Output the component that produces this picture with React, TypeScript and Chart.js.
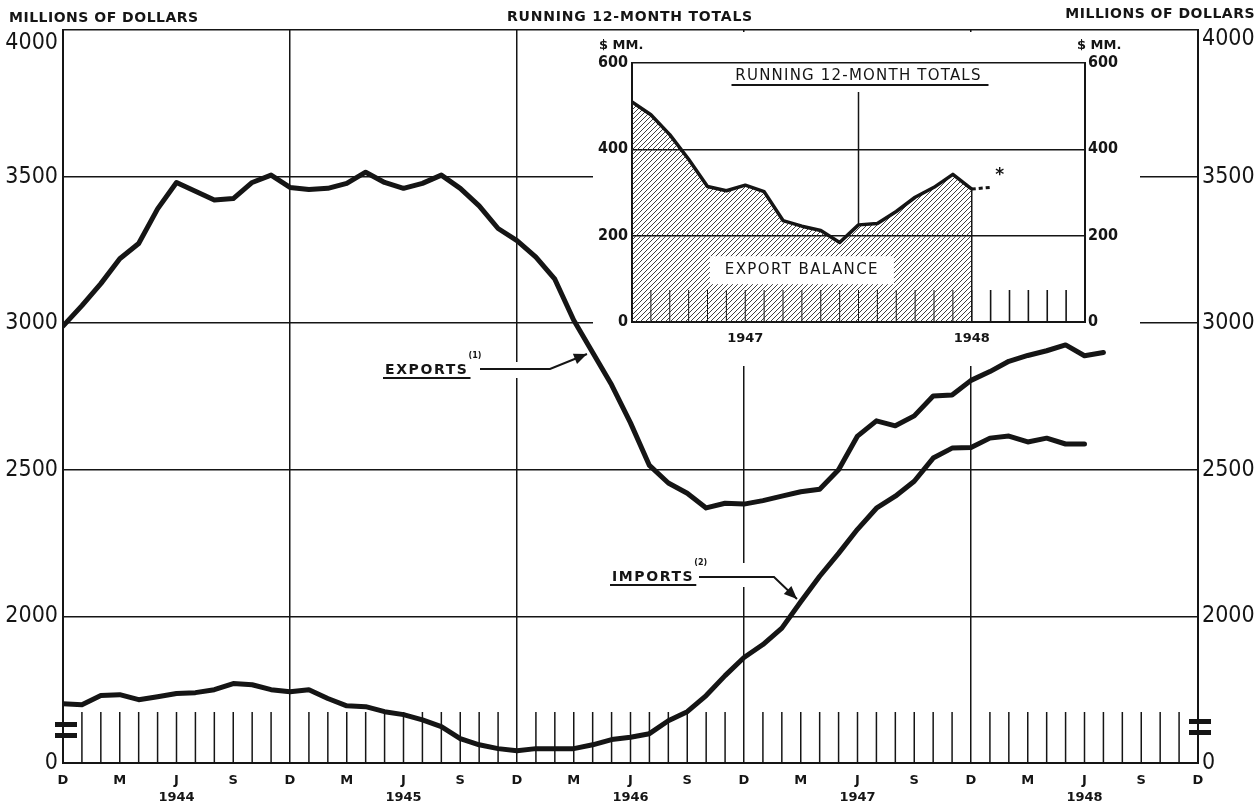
import React, { useEffect, useRef } from 'react';
import { Chart, registerables } from 'chart.js';

Chart.register(...registerables);

// ---------------- data ----------------
const MONTH_LETTERS = ['D', 'M', 'J', 'S'];
const YEAR_LABELS = ['1944', '1945', '1946', '1947', '1948'];
const MONTH_COUNT = 60; // Dec 1943 .. Dec 1948
const BREAK_VALUE = 1500; // bottom of the broken axis, labelled "0"

// running 12-month totals, millions of dollars, month index from Dec 1943
const EXPORTS = [
  2990, 3060, 3135, 3220, 3272, 3390, 3480, 3450, 3420, 3425,
  3480, 3505, 3463, 3456, 3460, 3477, 3515, 3480, 3460, 3477,
  3505, 3460, 3400, 3323, 3282, 3225, 3150, 3010, 2900, 2790,
  2660, 2515, 2455, 2420, 2370, 2386, 2383, 2395, 2410, 2425,
  2434, 2500, 2615, 2667, 2650, 2684, 2752, 2755, 2805, 2835,
  2870, 2890, 2906, 2926, 2889, 2900,
];
const IMPORTS = [
  1702, 1699, 1730, 1733, 1716, 1726, 1737, 1740, 1750, 1771,
  1767, 1750, 1743, 1750, 1720, 1695, 1692, 1675, 1665, 1647,
  1624, 1583, 1562, 1549, 1542, 1549, 1549, 1549, 1562, 1580,
  1588, 1600, 1644, 1675, 1730, 1798, 1860, 1904, 1960, 2050,
  2137, 2215, 2297, 2369, 2410, 2461, 2540, 2574, 2576, 2608,
  2615, 2595, 2608, 2588, 2588,
];

// inset: export balance, month index from Dec 1946
const INSET_MONTHS = 24;
const INSET_YEARS = ['1947', '1948'];
const BALANCE = [510, 480, 434, 377, 314, 304, 317, 302, 235, 222, 212, 184, 225, 228, 256, 289, 312, 342, 308];
const BALANCE_EST = [308, 312];

// ---------------- style ----------------
const INK = '#151515';
const NUM_FONT = '"DejaVu Sans Condensed", sans-serif';
const COND_FONT = '"DejaVu Sans Condensed", sans-serif';
const TXT_FONT = '"DejaVu Sans", sans-serif';
const W = 1257;
const H = 804;
const INSET = { left: 593, top: 34, width: 547, height: 332 };

function put(ctx: any, s: string, x: number, y: number, font: string, align = 'left', spacing = '0px') {
  ctx.font = font;
  ctx.textAlign = align;
  ctx.textBaseline = 'middle';
  ctx.letterSpacing = spacing;
  ctx.fillStyle = INK;
  ctx.fillText(s, x, y);
  ctx.letterSpacing = '0px';
}

function line(ctx: any, pts: number[][], width: number) {
  ctx.strokeStyle = INK;
  ctx.lineWidth = width;
  ctx.beginPath();
  ctx.moveTo(pts[0][0], pts[0][1]);
  for (let k = 1; k < pts.length; k++) ctx.lineTo(pts[k][0], pts[k][1]);
  ctx.stroke();
}

function callout(ctx: any, label: string, sup: string, tx: number, ty: number, pts: number[][], gapTop: number, gapBottom: number) {
  const font = `bold 14px ${TXT_FONT}`;
  const sp = '1.6px';
  ctx.font = font;
  ctx.letterSpacing = sp;
  const w = ctx.measureText(label).width;
  ctx.letterSpacing = '0px';
  ctx.fillStyle = '#fff';
  ctx.fillRect(tx - 3, ty - gapTop, pts[1][0] - tx + 3, gapTop + gapBottom);
  put(ctx, label, tx, ty, font, 'left', sp);
  put(ctx, sup, tx + w, ty - 14, `bold 8px ${TXT_FONT}`, 'left');
  line(ctx, [[tx - 2, ty + 8], [tx + w + 2, ty + 8]], 2);
  line(ctx, pts, 2);
  const [p0, p1] = [pts[pts.length - 2], pts[pts.length - 1]];
  const ang = Math.atan2(p1[1] - p0[1], p1[0] - p0[0]);
  const L = 13, hw = 5.5;
  ctx.fillStyle = INK;
  ctx.beginPath();
  ctx.moveTo(p1[0], p1[1]);
  ctx.lineTo(p1[0] - L * Math.cos(ang) + hw * Math.sin(ang), p1[1] - L * Math.sin(ang) - hw * Math.cos(ang));
  ctx.lineTo(p1[0] - L * Math.cos(ang) - hw * Math.sin(ang), p1[1] - L * Math.sin(ang) + hw * Math.cos(ang));
  ctx.closePath();
  ctx.fill();
}

const mainDecor = {
  id: 'mainDecor',
  beforeDatasetsDraw(chart: any) {
    const { ctx, chartArea: a, scales } = chart;
    const x = scales.x;
    ctx.save();
    // white backdrop behind the inset chart
    ctx.fillStyle = '#fff';
    ctx.fillRect(INSET.left, a.top + 2, INSET.width, INSET.top + INSET.height - a.top - 2);
    // monthly tick marks along the bottom
    ctx.strokeStyle = INK;
    ctx.lineWidth = 1.5;
    for (let i = 1; i < MONTH_COUNT; i++) {
      if (i % 12 === 0) continue;
      const px = x.getPixelForValue(i);
      ctx.beginPath();
      ctx.moveTo(px, a.bottom);
      ctx.lineTo(px, a.bottom - 51);
      ctx.stroke();
    }
    callout(ctx, 'EXPORTS', '(1)', 385, 370, [[480, 369], [550, 369], [587, 354]], 8, 8);
    callout(ctx, 'IMPORTS', '(2)', 612, 577, [[699, 577], [774, 577], [797, 599]], 14, 10);
    ctx.restore();
  },
  afterDraw(chart: any) {
    const { ctx, chartArea: a } = chart;
    ctx.save();
    const nf = `23px ${NUM_FONT}`;
    put(ctx, '4000', a.left - 5, a.top + 13, nf, 'right');
    put(ctx, '4000', a.right + 4, a.top + 9, nf, 'left');
    const tf = `bold 14px ${TXT_FONT}`;
    put(ctx, 'MILLIONS OF DOLLARS', 9, 18, tf, 'left', '0.5px');
    put(ctx, 'MILLIONS OF DOLLARS', 1255, 14, tf, 'right', '0.5px');
    put(ctx, 'RUNNING 12-MONTH TOTALS', 630, 17, tf, 'center', '0.8px');
    // axis break marks
    ctx.fillStyle = INK;
    ctx.fillRect(a.left - 8, a.bottom - 41, 22, 5);
    ctx.fillRect(a.left - 8, a.bottom - 30, 22, 5);
    ctx.fillRect(a.right - 9, a.bottom - 44, 22, 5);
    ctx.fillRect(a.right - 9, a.bottom - 33, 22, 5);
    ctx.restore();
  },
};

const insetDecor = {
  id: 'insetDecor',
  beforeDatasetsDraw(chart: any) {
    const { ctx, chartArea: a, scales } = chart;
    const x = scales.x, y = scales.y;
    ctx.save();
    for (let j = 1; j < INSET_MONTHS; j++) {
      const px = x.getPixelForValue(j);
      line(ctx, [[px, a.bottom], [px, a.bottom - 32]], j < BALANCE.length ? 1 : 1.6);
    }
    const mid = x.getPixelForValue(12);
    line(ctx, [[mid, a.top + 29], [mid, y.getPixelForValue(BALANCE[12])]], 1.5);
    ctx.restore();
  },
  afterDatasetsDraw(chart: any) {
    const { ctx, chartArea: a, scales } = chart;
    const x = scales.x, y = scales.y;
    ctx.save();
    const last = BALANCE.length - 1;
    const ex = x.getPixelForValue(last);
    line(ctx, [[ex, y.getPixelForValue(BALANCE[last])], [ex, a.bottom]], 1.5);
    // label box
    const bx = x.getPixelForValue(9), by = y.getPixelForValue(120);
    ctx.fillStyle = '#fff';
    ctx.fillRect(bx - 92, by - 14, 184, 28);
    const lf = `15px ${TXT_FONT}`;
    put(ctx, 'EXPORT BALANCE', bx, by, lf, 'center', '1.4px');
    // title
    const tx = x.getPixelForValue(12);
    put(ctx, 'RUNNING 12-MONTH TOTALS', tx, a.top + 13, lf, 'center', '1.2px');
    line(ctx, [[tx - 127, a.top + 22], [tx + 130, a.top + 22]], 1.8);
    const uf = `bold 13px ${TXT_FONT}`;
    put(ctx, '$ MM.', a.left - 33, a.top - 17, uf, 'left');
    put(ctx, '$ MM.', a.right - 8, a.top - 17, uf, 'left');
    put(ctx, '*', x.getPixelForValue(last + 1) + 9, y.getPixelForValue(BALANCE_EST[1]) - 12, `bold 17px ${TXT_FONT}`, 'center');
    ctx.restore();
  },
};

function makeHatch(ctx: any) {
  const c = document.createElement('canvas');
  c.width = 5;
  c.height = 5;
  const g = c.getContext('2d') as CanvasRenderingContext2D;
  g.strokeStyle = '#2a2a2a';
  g.lineWidth = 0.9;
  g.beginPath();
  g.moveTo(0, 5); g.lineTo(5, 0);
  g.moveTo(-1, 1); g.lineTo(1, -1);
  g.moveTo(4, 6); g.lineTo(6, 4);
  g.stroke();
  return ctx.createPattern(c, 'repeat');
}

function mainConfig(): any {
  const lineDs = (data: number[]) => ({
    data: data.map((v, i) => ({ x: i, y: v })),
    borderColor: INK,
    borderWidth: 5,
    pointRadius: 0,
    tension: 0,
    fill: false,
    borderJoinStyle: 'round',
    borderCapStyle: 'round',
  });
  const yTicks = (pad: number) => ({
    stepSize: 500,
    padding: pad,
    color: INK,
    font: { family: NUM_FONT, size: 23 },
    callback: (v: number) => (v === BREAK_VALUE ? '0' : v === 4000 ? '' : String(v)),
  });
  return {
    type: 'line',
    data: { datasets: [lineDs(EXPORTS), lineDs(IMPORTS)] },
    options: {
      animation: false,
      responsive: false,
      events: [],
      layout: { padding: { top: 30, left: 0, right: 0, bottom: 0 } },
      plugins: { legend: { display: false }, tooltip: { enabled: false }, title: { display: false } },
      scales: {
        x: {
          type: 'linear',
          min: 0,
          max: MONTH_COUNT,
          afterFit: (s: any) => { s.height = 41; },
          ticks: {
            stepSize: 3,
            autoSkip: false,
            maxRotation: 0,
            padding: 9.5,
            color: INK,
            font: { family: TXT_FONT, size: 13, weight: 'bold', lineHeight: '17px' },
            callback: (v: number) => {
              const i = Math.round(v);
              const m = MONTH_LETTERS[(i / 3) % 4];
              return i % 12 === 6 ? [m, YEAR_LABELS[(i - 6) / 12]] : m;
            },
          },
          grid: {
            drawTicks: false,
            lineWidth: 1.5,
            color: (c: any) => (c.tick && Math.round(c.tick.value) % 12 === 0 ? INK : 'rgba(0,0,0,0)'),
          },
          border: { display: true, color: INK, width: 2 },
        },
        y: {
          type: 'linear',
          position: 'left',
          min: BREAK_VALUE,
          max: 4000,
          afterFit: (s: any) => { s.width = 63; },
          ticks: yTicks(5),
          grid: { drawTicks: false, lineWidth: 1.5, color: INK },
          border: { display: true, color: INK, width: 2 },
        },
        y2: {
          type: 'linear',
          position: 'right',
          min: BREAK_VALUE,
          max: 4000,
          afterFit: (s: any) => { s.width = 59; },
          ticks: yTicks(4),
          grid: { display: false, drawTicks: false },
          border: { display: true, color: INK, width: 2 },
        },
      },
    },
    plugins: [mainDecor],
  };
}

function insetConfig(hatch: any): any {
  const yTicks = (pad: number) => ({
    stepSize: 200,
    padding: pad,
    color: INK,
    font: { family: COND_FONT, size: 16, weight: 'bold' },
  });
  return {
    type: 'line',
    data: {
      datasets: [
        {
          data: BALANCE.map((v, j) => ({ x: j, y: v })),
          borderColor: INK,
          borderWidth: 3.5,
          backgroundColor: hatch,
          fill: 'origin',
          pointRadius: 0,
          tension: 0,
          borderJoinStyle: 'round',
        },
        {
          data: BALANCE_EST.map((v, k) => ({ x: BALANCE.length - 1 + k, y: v })),
          borderColor: INK,
          borderWidth: 3,
          borderDash: [4, 3],
          fill: false,
          pointRadius: 0,
          tension: 0,
        },
      ],
    },
    options: {
      animation: false,
      responsive: false,
      events: [],
      layout: { padding: { top: 29, left: 0, right: 0, bottom: 0 } },
      plugins: { legend: { display: false }, tooltip: { enabled: false } },
      scales: {
        x: {
          type: 'linear',
          min: 0,
          max: INSET_MONTHS,
          afterFit: (s: any) => { s.height = 44; },
          ticks: {
            stepSize: 6,
            autoSkip: false,
            maxRotation: 0,
            padding: 8.5,
            color: INK,
            font: { family: TXT_FONT, size: 13, weight: 'bold', lineHeight: '17px' },
            callback: (v: number) => (Math.round(v) % 12 === 6 ? INSET_YEARS[(Math.round(v) - 6) / 12] : ''),
          },
          grid: { display: false, drawTicks: false },
          border: { display: true, color: INK, width: 2 },
        },
        y: {
          type: 'linear',
          position: 'left',
          min: 0,
          max: 600,
          afterFit: (s: any) => { s.width = 39; },
          ticks: yTicks(4),
          grid: { drawTicks: false, lineWidth: 1.5, color: INK },
          border: { display: true, color: INK, width: 2 },
        },
        y2: {
          type: 'linear',
          position: 'right',
          min: 0,
          max: 600,
          afterFit: (s: any) => { s.width = 55; },
          ticks: yTicks(3),
          grid: { display: false, drawTicks: false },
          border: { display: true, color: INK, width: 2 },
        },
      },
    },
    plugins: [insetDecor],
  };
}

export default function App() {
  const mainRef = useRef<HTMLCanvasElement>(null);
  const insetRef = useRef<HTMLCanvasElement>(null);
  useEffect(() => {
    const mc = mainRef.current as HTMLCanvasElement;
    const ic = insetRef.current as HTMLCanvasElement;
    const main = new Chart(mc, mainConfig());
    const inset = new Chart(ic, insetConfig(makeHatch(ic.getContext('2d'))));
    return () => {
      main.destroy();
      inset.destroy();
    };
  }, []);
  return (
    <div style={{ position: 'absolute', left: 0, top: 0, width: W, height: H, background: '#fff', overflow: 'hidden' }}>
      <canvas ref={mainRef} width={W} height={H} style={{ position: 'absolute', left: 0, top: 0, display: 'block' }} />
      <canvas
        ref={insetRef}
        width={INSET.width}
        height={INSET.height}
        style={{ position: 'absolute', left: INSET.left, top: INSET.top, display: 'block' }}
      />
    </div>
  );
}
